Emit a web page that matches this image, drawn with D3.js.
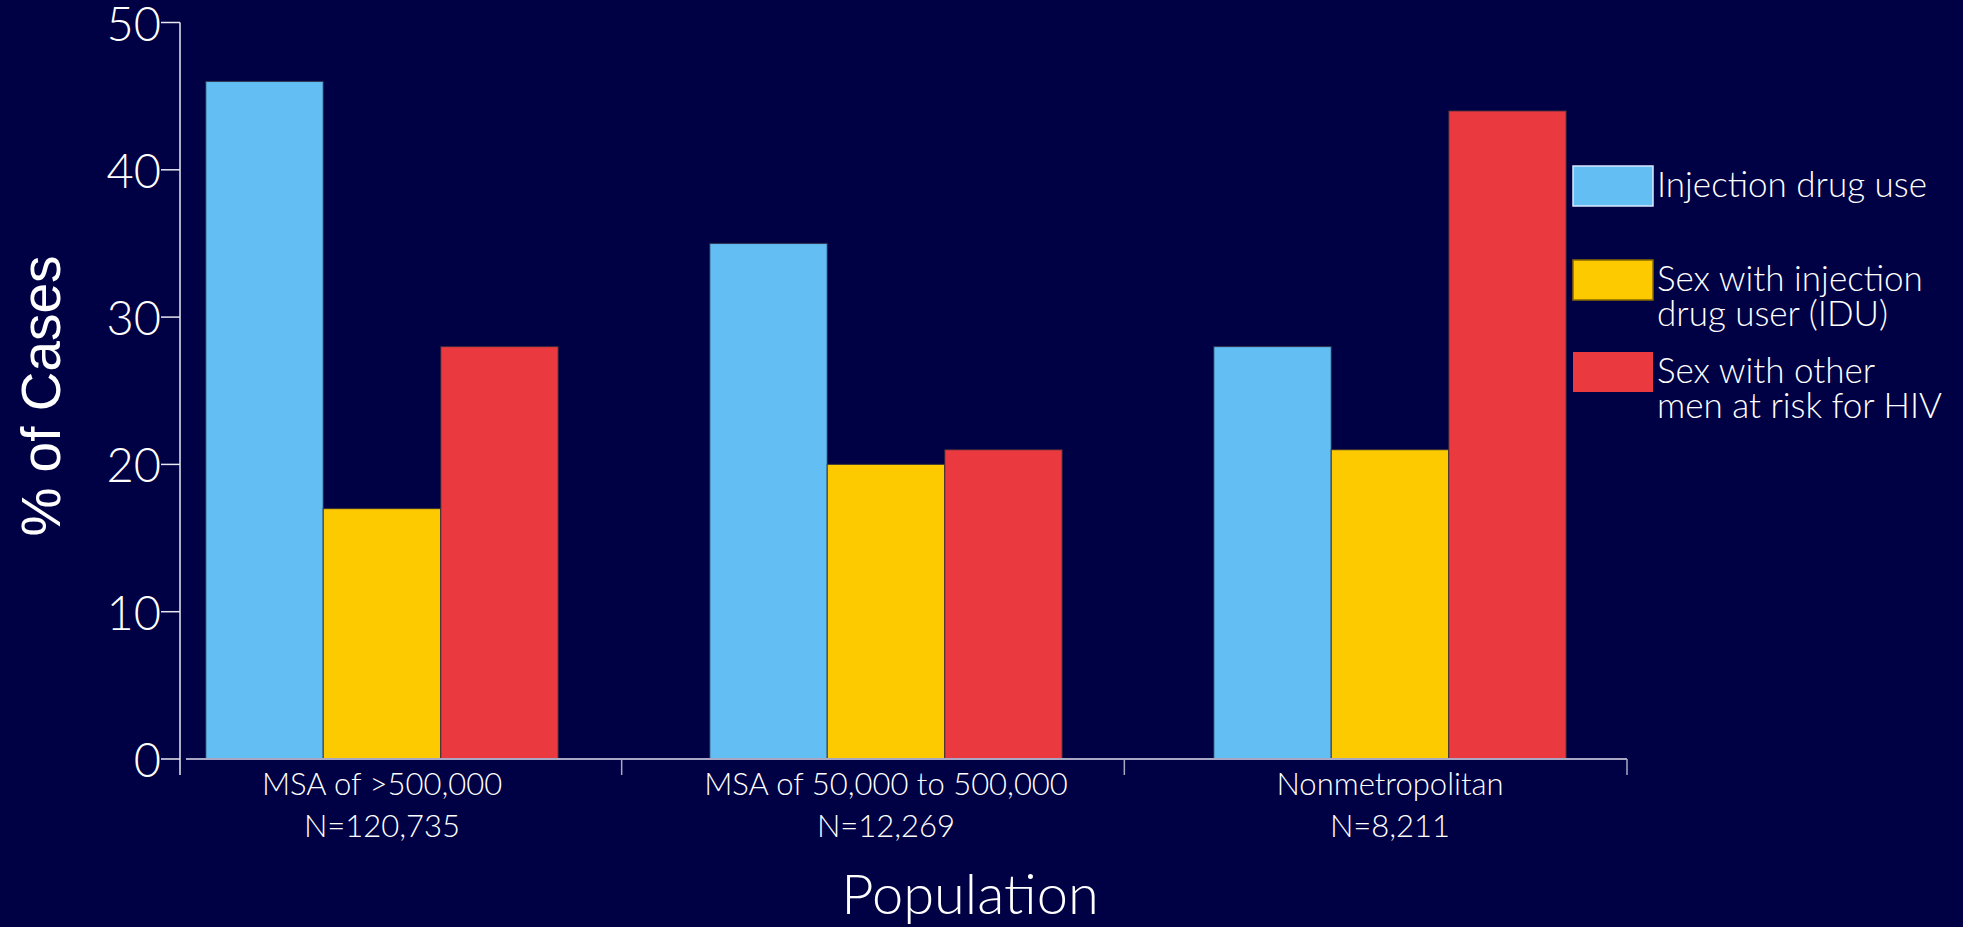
<!DOCTYPE html>
<html>
<head>
<meta charset="utf-8">
<script src="https://cdn.jsdelivr.net/npm/d3@7"></script>
<style>
  html, body { margin: 0; padding: 0; background: #000044; overflow: hidden; }
  svg { display: block; }
  .light { font-family: Lato, "Noto Sans", sans-serif; font-weight: 300; fill: #ffffff; }
</style>
</head>
<body>
<svg id="chart" width="1963" height="927"></svg>
<script>
// Population groups along the x axis, with case counts beneath each
const categories = ["MSA of >500,000", "MSA of 50,000 to 500,000", "Nonmetropolitan"];
const caseCounts = ["N=120,735", "N=12,269", "N=8,211"];

// Exposure categories (one bar per group each)
const series = ["Injection drug use", "Sex with injection drug user (IDU)", "Sex with other men at risk for HIV"];
const legendLines = [["Injection drug use"], ["Sex with injection", "drug user (IDU)"], ["Sex with other", "men at risk for HIV"]];
const seriesColors = ["#62BEF3", "#FDCA00", "#EA3A3F"];

// Percent of cases per population group
const injectionDrugUse = [46, 35, 28];
const sexWithIDU = [17, 20, 21];
const sexWithOtherMen = [28, 21, 44];
const seriesValues = [injectionDrugUse, sexWithIDU, sexWithOtherMen];

const yTicks = [0, 10, 20, 30, 40, 50];

const svg = d3.select("#chart");
svg.append("rect").attr("width", 1963).attr("height", 927).attr("fill", "#000044");

const y = d3.scaleLinear().domain([0, 50]).range([759, 22.5]);
const x0 = d3.scaleBand().domain(categories).range([130, 1642]);
const x1 = d3.scaleBand().domain(series).range([0, x0.bandwidth()]).paddingInner(0).paddingOuter(0.645);
const xFrame = d3.scaleBand().domain(categories).range([119, 1627]);
const color = d3.scaleOrdinal().domain(series).range(seriesColors);

// Bars
const rows = categories.map((c, i) => ({ c, vals: series.map((s, j) => ({ s, v: seriesValues[j][i] })) }));
const g = svg.append("g");
g.selectAll("g.grp").data(rows).join("g")
  .attr("class", "grp")
  .attr("transform", d => `translate(${x0(d.c)},0)`)
  .selectAll("rect").data(d => d.vals).join("rect")
  .attr("x", d => x1(d.s))
  .attr("width", x1.bandwidth())
  .attr("y", d => y(d.v))
  .attr("height", d => y(0) - y(d.v))
  .attr("fill", d => color(d.s))
  .attr("stroke", "#2a2a3a")
  .attr("stroke-opacity", 0.7)
  .attr("stroke-width", 1.2);

// Y axis
const yAxisX = 180;
svg.append("line")
  .attr("x1", yAxisX).attr("x2", yAxisX)
  .attr("y1", y(50)).attr("y2", y(0) + 16)
  .attr("stroke", "#e8e8f0").attr("stroke-width", 1.5);
const yt = svg.append("g");
yt.selectAll("line").data(yTicks).join("line")
  .attr("x1", yAxisX - 19).attr("x2", yAxisX)
  .attr("y1", d => y(d)).attr("y2", d => y(d))
  .attr("stroke", "#e8e8f0").attr("stroke-width", 1.5);
yt.selectAll("text").data(yTicks).join("text")
  .attr("class", "light")
  .attr("x", yAxisX - 19)
  .attr("y", d => y(d) + 18)
  .attr("text-anchor", "end")
  .attr("font-size", 47)
  .text(d => d);

// X axis
svg.append("line")
  .attr("x1", 186).attr("x2", xFrame.range()[1])
  .attr("y1", y(0)).attr("y2", y(0))
  .attr("stroke", "#a8a8c4").attr("stroke-width", 2);
svg.append("g").selectAll("line").data(categories).join("line")
  .attr("x1", d => xFrame(d) + xFrame.bandwidth())
  .attr("x2", d => xFrame(d) + xFrame.bandwidth())
  .attr("y1", y(0)).attr("y2", y(0) + 16)
  .attr("stroke", "#a8a8c4").attr("stroke-width", 1.5);

const xl = svg.append("g");
xl.selectAll("text.cat").data(categories).join("text")
  .attr("class", "light cat")
  .attr("x", d => x0(d) + x0.bandwidth() / 2)
  .attr("y", 795)
  .attr("text-anchor", "middle")
  .attr("font-size", 31)
  .text(d => d);
xl.selectAll("text.n").data(caseCounts).join("text")
  .attr("class", "light n")
  .attr("x", (d, i) => x0(categories[i]) + x0.bandwidth() / 2)
  .attr("y", 837)
  .attr("text-anchor", "middle")
  .attr("font-size", 31)
  .text(d => d);

// Axis titles
svg.append("text")
  .attr("class", "light")
  .attr("x", 970).attr("y", 914)
  .attr("text-anchor", "middle")
  .attr("font-size", 56)
  .text("Population");

svg.append("text")
  .attr("transform", "translate(60,396) rotate(-90)")
  .attr("text-anchor", "middle")
  .attr("font-family", "'Liberation Sans', Arial, sans-serif")
  .attr("font-size", 55)
  .attr("fill", "#ffffff")
  .text("% of Cases");

// Legend
const legendTop = [166, 260, 352];
const lg = svg.append("g");
series.forEach((s, i) => {
  lg.append("rect")
    .attr("x", 1573).attr("y", legendTop[i])
    .attr("width", 80).attr("height", 40)
    .attr("fill", color(s))
    .attr("stroke", i === 0 ? "#d8e8ff" : (i === 1 ? "#8a6a00" : "none"))
    .attr("stroke-width", 1.5);
  const t = lg.append("text")
    .attr("class", "light")
    .attr("x", 1657)
    .attr("y", legendTop[i] + 31)
    .attr("font-size", 35);
  legendLines[i].forEach((line, k) => {
    t.append("tspan").attr("x", 1657).attr("dy", k === 0 ? 0 : 35).text(line);
  });
});
</script>
</body>
</html>
